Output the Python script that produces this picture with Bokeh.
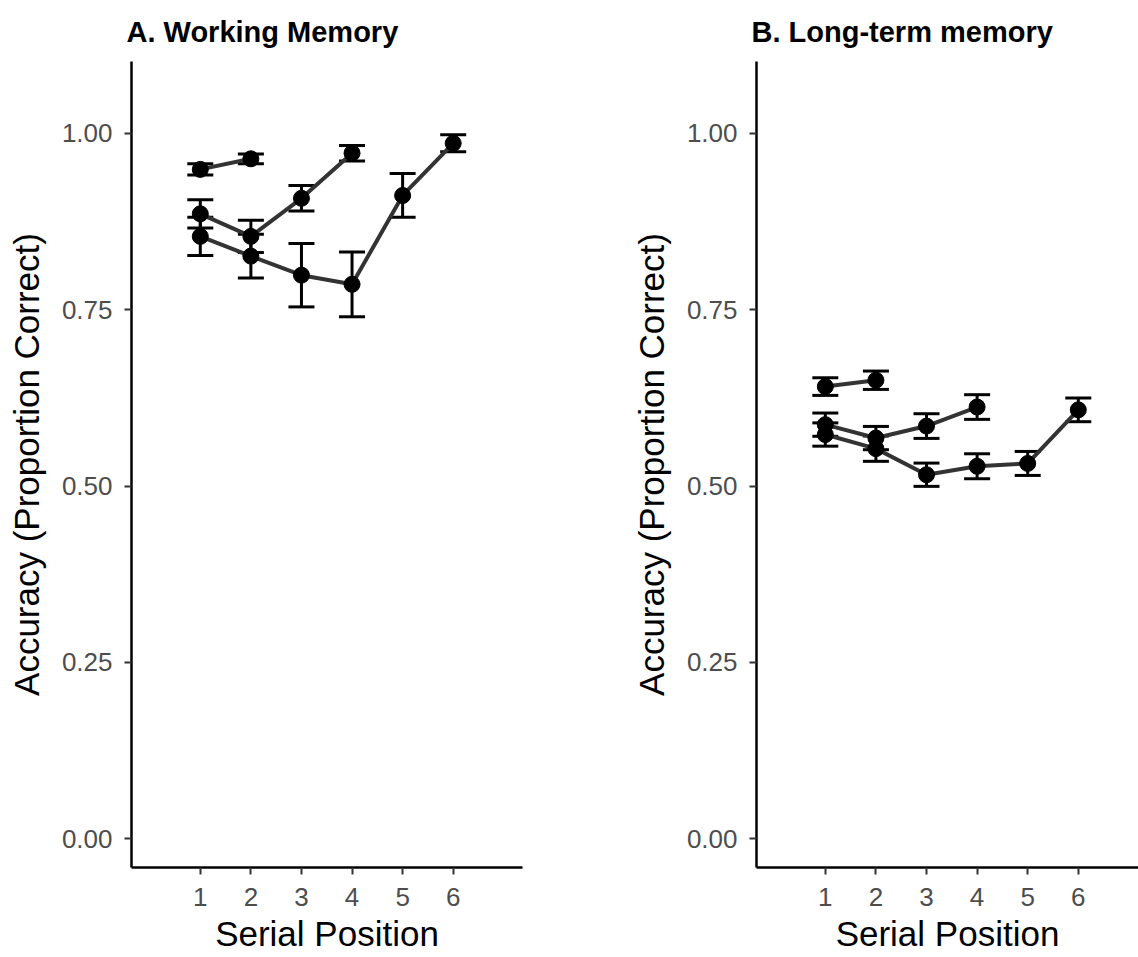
from bokeh.plotting import figure
from bokeh.layouts import row
from bokeh.models import ColumnDataSource, Whisker, TeeHead, FixedTicker, Range1d
from bokeh.embed import file_html
from bokeh.resources import INLINE

# ---------------- data ----------------
panel_titles = ["A. Working Memory", "B. Long-term memory"]
x_label = "Serial Position"
y_label = "Accuracy (Proportion Correct)"
x_ticks = [1, 2, 3, 4, 5, 6]
y_ticks = [0.0, 0.25, 0.50, 0.75, 1.0]
y_tick_labels = ["0.00", "0.25", "0.50", "0.75", "1.00"]

# Working memory (panel A): list lengths 2, 4, 6
wm_len2_pos = [1, 2]
wm_len2_mean = [0.949, 0.964]
wm_len2_se = [0.008, 0.007]
wm_len4_pos = [1, 2, 3, 4]
wm_len4_mean = [0.886, 0.854, 0.908, 0.972]
wm_len4_se = [0.020, 0.023, 0.018, 0.011]
wm_len6_pos = [1, 2, 3, 4, 5, 6]
wm_len6_mean = [0.854, 0.826, 0.799, 0.786, 0.912, 0.986]
wm_len6_se = [0.027, 0.031, 0.045, 0.046, 0.031, 0.012]

# Long-term memory (panel B)
ltm_len2_pos = [1, 2]
ltm_len2_mean = [0.641, 0.650]
ltm_len2_se = [0.0125, 0.013]
ltm_len4_pos = [1, 2, 3, 4]
ltm_len4_mean = [0.587, 0.568, 0.585, 0.612]
ltm_len4_se = [0.0165, 0.0165, 0.0175, 0.0175]
ltm_len6_pos = [1, 2, 3, 4, 5, 6]
ltm_len6_mean = [0.573, 0.553, 0.516, 0.528, 0.532, 0.608]
ltm_len6_se = [0.0165, 0.018, 0.0165, 0.0177, 0.017, 0.0168]

panel_series = [
    [(wm_len2_pos, wm_len2_mean, wm_len2_se),
     (wm_len4_pos, wm_len4_mean, wm_len4_se),
     (wm_len6_pos, wm_len6_mean, wm_len6_se)],
    [(ltm_len2_pos, ltm_len2_mean, ltm_len2_se),
     (ltm_len4_pos, ltm_len4_mean, ltm_len4_se),
     (ltm_len6_pos, ltm_len6_mean, ltm_len6_se)],
]

FONT = "Liberation Sans"
Y_RANGE = (-0.041, 1.102)
X_START = -0.36


def make_panel(title, series, width, border_left, border_right, x_end):
    p = figure(width=width, height=957, output_backend="svg", toolbar_location=None,
               x_range=Range1d(X_START, x_end), y_range=Range1d(*Y_RANGE),
               min_border_left=border_left, min_border_right=border_right,
               min_border_top=60, min_border_bottom=90)
    p.outline_line_color = None
    p.xgrid.visible = False
    p.ygrid.visible = False
    p.background_fill_color = "white"
    p.border_fill_color = "white"

    p.title.text = title
    p.title.text_font = FONT
    p.title.text_font_size = "29px"
    p.title.text_font_style = "bold"
    p.title.text_color = "black"
    p.title.align = "left"
    p.title.offset = -5
    p.title.standoff = 27

    for ax in (p.xaxis[0], p.yaxis[0]):
        ax.axis_line_color = "black"
        ax.axis_line_width = 2.5
        ax.major_tick_line_color = "#333333"
        ax.major_tick_line_width = 2
        ax.major_tick_out = 7
        ax.major_tick_in = 0
        ax.minor_tick_line_color = None
        ax.major_label_text_font = FONT
        ax.major_label_text_font_size = "26px"
        ax.major_label_text_color = "#4d4d4d"

    p.xaxis.ticker = FixedTicker(ticks=x_ticks)
    p.xaxis.major_label_standoff = 13
    p.xaxis.axis_label = x_label
    p.xaxis.axis_label_text_font = FONT
    p.xaxis.axis_label_text_font_size = "35px"
    p.xaxis.axis_label_text_font_style = "normal"
    p.xaxis.axis_label_text_color = "black"
    p.xaxis.axis_label_standoff = 5

    p.yaxis.ticker = FixedTicker(ticks=y_ticks)
    p.yaxis.major_label_overrides = {t: l for t, l in zip(y_ticks, y_tick_labels)}
    p.yaxis.major_label_standoff = 12
    p.yaxis.axis_label = y_label
    p.yaxis.axis_label_text_font = FONT
    p.yaxis.axis_label_text_font_size = "35px"
    p.yaxis.axis_label_text_font_style = "normal"
    p.yaxis.axis_label_text_color = "black"
    p.yaxis.axis_label_standoff = 13

    for pos, mean, se in series:
        src = ColumnDataSource(dict(
            x=pos, y=mean,
            upper=[m + s for m, s in zip(mean, se)],
            lower=[m - s for m, s in zip(mean, se)],
        ))
        w = Whisker(base="x", upper="upper", lower="lower", source=src,
                    line_color="black", line_width=3,
                    upper_head=TeeHead(size=26, line_color="black", line_width=3),
                    lower_head=TeeHead(size=26, line_color="black", line_width=3))
        p.add_layout(w)
        p.line("x", "y", source=src, line_color="#333333", line_width=4)
        p.scatter("x", "y", source=src, size=16, fill_color="black", line_color="black")
    return p


pa = make_panel(panel_titles[0], panel_series[0], 628, 131, 106, 7.37)
pb = make_panel(panel_titles[1], panel_series[1], 510, 128, 0, 7.19)

layout = row(pa, pb, spacing=0)
open("out.html", "w").write(file_html(layout, INLINE))
